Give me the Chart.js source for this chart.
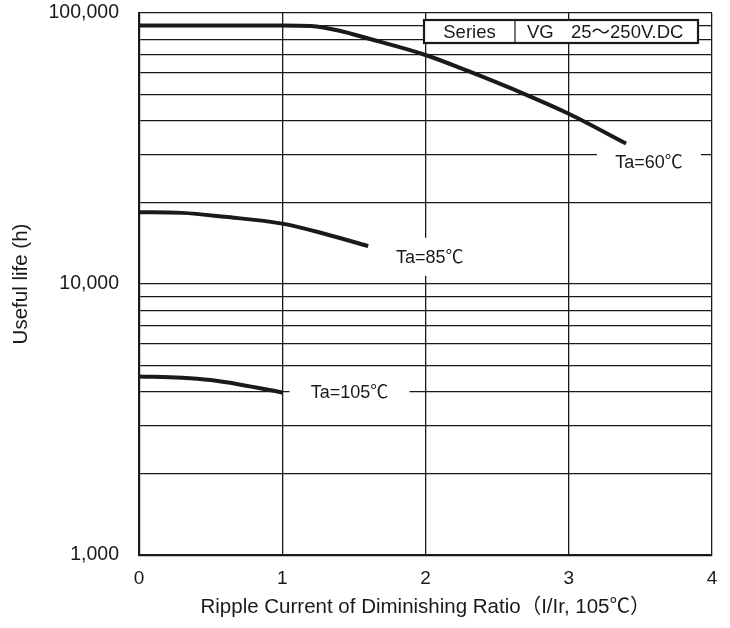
<!DOCTYPE html>
<html>
<head>
<meta charset="utf-8">
<script src="https://cdn.jsdelivr.net/npm/chart.js@4.4.1/dist/chart.umd.min.js"></script>
<style>
  html, body { margin: 0; padding: 0; background: #fff; }
  #wrap { width: 730px; height: 628px; position: relative; }
</style>
</head>
<body>
<div id="wrap"><canvas id="c" width="730" height="628"></canvas></div>
<script>
// ---- data ----
const xTicks = [0, 1, 2, 3, 4];
const yGridValues = [1000,2000,3000,4000,5000,6000,7000,8000,9000,
                     10000,20000,30000,40000,50000,60000,70000,80000,90000,100000];
const yTickLabels = { 1000: '1,000', 10000: '10,000', 100000: '100,000' };

const ripple60 = [0, 1.0, 1.2, 1.4, 1.6, 2.0, 2.3, 2.7, 3.0, 3.4];
const life60   = [90000, 90000, 89500, 86000, 80500, 70000, 61000, 50000, 42500, 33000];

const ripple85 = [0, 0.3, 0.6, 1.0, 1.3, 1.6];
const life85   = [18400, 18300, 17700, 16700, 15300, 13800];

const ripple105 = [0, 0.3, 0.5, 0.7, 1.0];
const life105   = [4560, 4510, 4420, 4260, 3980];

const seriesNames = ['Ta=60℃', 'Ta=85℃', 'Ta=105℃'];
const legendCells = ['Series', 'VG', '25～250V.DC'];
const xTitle = 'Ripple Current of Diminishing Ratio（I/Ir, 105℃）';
const yTitle = 'Useful life (h)';

// ---- label anchor positions (data coords) ----
const labelAnchors = [
  { x: 3.56, y: 28300, w: 104, h: 30 },
  { x: 2.03, y: 12600, w: 100, h: 38 },
  { x: 1.47, y: 4000, w: 120, h: 30 }
];

const FONT = '"Liberation Sans", Arial, "Noto Sans CJK JP", sans-serif';
const INK = '#1a1a1a';

function pts(xs, ys) { return xs.map((x, i) => ({ x: x, y: ys[i] })); }

const labelPlugin = {
  id: 'labels',
  afterDatasetsDraw(chart) {
    const ctx = chart.ctx;
    const xs = chart.scales.x, ys = chart.scales.y;
    ctx.save();
    ctx.font = '18px ' + FONT;
    ctx.textAlign = 'center';
    ctx.textBaseline = 'middle';
    labelAnchors.forEach((a, i) => {
      const px = xs.getPixelForValue(a.x), py = ys.getPixelForValue(a.y);
      ctx.fillStyle = '#fff';
      ctx.fillRect(px - a.w / 2, py - a.h / 2, a.w, a.h);
      ctx.fillStyle = INK;
      ctx.fillText(seriesNames[i], px, py + 1);
    });
    // series legend table
    const ca = chart.chartArea;
    const bx = ca.right - 288, by = ca.top + 7, bw = 274, bh = 23, div = 91;
    ctx.fillStyle = '#fff';
    ctx.fillRect(bx, by, bw, bh);
    ctx.strokeStyle = INK;
    ctx.lineWidth = 2.2;
    ctx.strokeRect(bx, by, bw, bh);
    ctx.lineWidth = 1.2;
    ctx.beginPath();
    ctx.moveTo(bx + div, by); ctx.lineTo(bx + div, by + bh);
    ctx.stroke();
    ctx.fillStyle = INK;
    ctx.font = '18.5px ' + FONT;
    ctx.textAlign = 'center';
    ctx.fillText(legendCells[0], bx + div / 2, by + bh / 2 + 1);
    ctx.textAlign = 'left';
    ctx.fillText(legendCells[1], bx + div + 12, by + bh / 2 + 1);
    ctx.fillText(legendCells[2], bx + div + 56, by + bh / 2 + 1);
    ctx.restore();
  }
};

const lineStyle = {
  borderColor: INK,
  borderWidth: 4,
  pointRadius: 0,
  fill: false,
  cubicInterpolationMode: 'monotone'
};

new Chart(document.getElementById('c'), {
  type: 'line',
  data: {
    datasets: [
      Object.assign({ label: seriesNames[0], data: pts(ripple60, life60) }, lineStyle),
      Object.assign({ label: seriesNames[1], data: pts(ripple85, life85) }, lineStyle),
      Object.assign({ label: seriesNames[2], data: pts(ripple105, life105) }, lineStyle)
    ]
  },
  options: {
    responsive: false,
    animation: false,
    layout: { padding: { left: 0, top: 13, right: 18, bottom: 0 } },
    plugins: { legend: { display: false }, tooltip: { enabled: false } },
    scales: {
      x: {
        type: 'linear',
        min: 0, max: 4,
        afterBuildTicks(scale) { scale.ticks = xTicks.map(v => ({ value: v })); },
        afterFit(scale) { scale.height = 73; scale.paddingLeft = 0; scale.paddingRight = 0; },
        grid: { color: INK, lineWidth: 1.3, drawTicks: false },
        border: { color: INK, width: 2.2 },
        ticks: { color: INK, padding: 12, font: { family: FONT, size: 19 } },
        title: {
          display: true, text: xTitle, color: INK,
          font: { family: FONT, size: 20.5 }, padding: { top: 4, bottom: 8 }
        }
      },
      y: {
        type: 'logarithmic',
        min: 1000, max: 100000,
        afterBuildTicks(scale) { scale.ticks = yGridValues.map(v => ({ value: v })); },
        afterFit(scale) { scale.width = 139; scale.paddingTop = 0; scale.paddingBottom = 0; },
        grid: { color: INK, lineWidth: 1.3, drawTicks: false },
        border: { color: INK, width: 2.2 },
        ticks: {
          color: INK, padding: 20, autoSkip: false,
          font: { family: FONT, size: 19.5 },
          callback: (v) => yTickLabels[v] || ''
        },
        title: {
          display: true, text: yTitle, color: INK,
          font: { family: FONT, size: 20.5 }, padding: { top: 9, bottom: 0 }
        }
      }
    }
  },
  plugins: [labelPlugin]
});
</script>
</body>
</html>
